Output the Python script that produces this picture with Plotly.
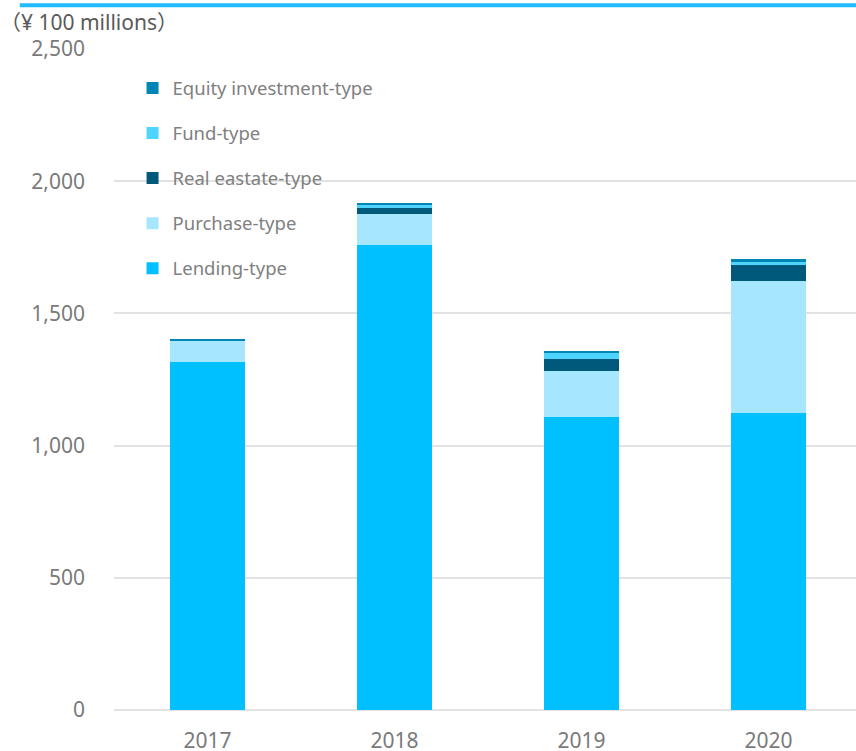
import plotly.graph_objects as go

# Annual amounts by fund type (¥ 100 millions)
years = ["2017", "2018", "2019", "2020"]
lending = [1316, 1760, 1109, 1123]
purchase = [80, 116, 172, 501]
real_estate = [0, 21, 45, 59]
fund = [2, 13, 25, 13]
equity = [3, 7, 8, 9]

series = [
    ("Lending-type", lending, "#00C0FF"),
    ("Purchase-type", purchase, "#A6E6FF"),
    ("Real eastate-type", real_estate, "#00587A"),
    ("Fund-type", fund, "#4DD5FF"),
    ("Equity investment-type", equity, "#0086B4"),
]

y_ticks = [0, 500, 1000, 1500, 2000, 2500]

fig = go.Figure()
n = len(series)
for i, (name, vals, color) in enumerate(series):
    fig.add_trace(go.Bar(
        x=years, y=vals, name=name, legendgroup=name,
        legendrank=n - i,  # top segment listed first
        marker=dict(color=color, line=dict(width=0)),
        width=0.4,
    ))

fig.update_layout(
    barmode="stack",
    width=856, height=751,
    margin=dict(l=114, r=0, t=49, b=41, autoexpand=False),
    paper_bgcolor="white", plot_bgcolor="white",
    font=dict(family="Noto Sans", color="#7A7A7A", size=18),
    showlegend=True,
    legend=dict(
        x=0.025, y=0.969, xanchor="left", yanchor="top",
        traceorder="grouped", tracegroupgap=18,
        bgcolor="rgba(0,0,0,0)",
        font=dict(size=18.5, color="#808080"),
        itemwidth=30,
    ),
    xaxis=dict(
        range=[-0.5, 3.468], showgrid=False, showline=False,
        ticks="", ticklabelstandoff=16, automargin=False,
        tickfont=dict(size=21, color="#7A7A7A"),
    ),
    yaxis=dict(
        range=[0, 2500], tickvals=y_ticks,
        ticktext=[f"{v:,}" for v in y_ticks],
        showgrid=True, gridcolor="#E2E2E2", gridwidth=2,
        zeroline=True, zerolinecolor="#E2E2E2", zerolinewidth=2,
        showline=False, ticks="", ticklabelstandoff=28, automargin=False,
        tickfont=dict(size=21, color="#7A7A7A"),
    ),
    shapes=[dict(
        type="line", xref="paper", yref="paper",
        x0=-0.127, x1=1, y0=1.066, y1=1.066,
        line=dict(color="#22BBFF", width=4),
    )],
    annotations=[
        dict(text="（¥ 100 millions）", xref="paper", yref="paper",
             x=-0.156, y=1.041, xanchor="left", yanchor="middle",
             showarrow=False,
             font=dict(size=21, color="#595959",
                       family="Noto Sans, Noto Sans CJK JP")),
        dict(text="出典：", xref="paper", yref="paper",
             x=-0.027, y=-0.052, xanchor="left", yanchor="top",
             showarrow=False, font=dict(size=16, color="#595959",
                                       family="Noto Sans CJK JP")),
    ],
)

fig.write_html("out.html")
